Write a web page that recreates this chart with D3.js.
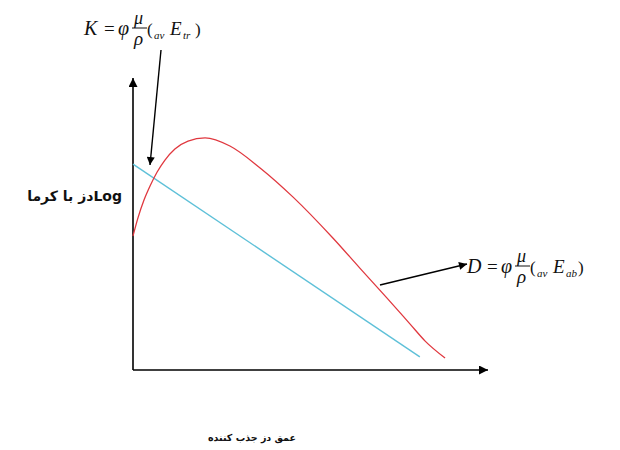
<!DOCTYPE html>
<html>
<head>
<meta charset="utf-8">
<script src="https://cdn.jsdelivr.net/npm/d3@7"></script>
<style>
  html, body { margin: 0; padding: 0; background: #fff; }
  svg { display: block; }
  .ar { font-family: "DejaVu Sans", sans-serif; font-weight: bold; fill: #111; }
  .fx { font-family: "Liberation Serif", "Times New Roman", serif; font-style: italic; fill: #111; }
</style>
</head>
<body>
<svg id="chart" width="620" height="450"></svg>
<script>
// Depth (relative units) and log-dose (relative units) for the two curves
const depthAbsorbed = [0, 1.4, 3.1, 4.8, 6.8, 9, 11.8, 15.5, 20.3, 27.3, 35.8, 45.1, 56.3, 63.9, 71.5, 78, 82.3, 87.9];
const doseAbsorbed  = [45.9, 52.1, 58.2, 63, 67.8, 71.9, 75.7, 78.4, 79.5, 76.7, 69.2, 59.2, 45.2, 34.9, 24.7, 15.8, 9.9, 4.1];
const depthKerma = [0, 80.8];
const doseKerma  = [70.5, 4.5];

const yLabel = "Logدز با کرما";
const xLabel = "عمق دز جذب کننده";

const svg = d3.select("#chart");

const x = d3.scaleLinear().domain([0, 100]).range([133, 488]);
const y = d3.scaleLinear().domain([0, 100]).range([370, 78]);

// arrowhead markers
const defs = svg.append("defs");
defs.append("marker")
  .attr("id", "head")
  .attr("viewBox", "0 0 10 10")
  .attr("refX", 10).attr("refY", 5)
  .attr("markerUnits", "userSpaceOnUse")
  .attr("markerWidth", 12).attr("markerHeight", 9)
  .attr("orient", "auto")
  .append("path").attr("d", "M0,0 L10,5 L0,10 Z").attr("fill", "#000");
defs.append("marker")
  .attr("id", "headSmall")
  .attr("viewBox", "0 0 10 10")
  .attr("refX", 10).attr("refY", 5)
  .attr("markerUnits", "userSpaceOnUse")
  .attr("markerWidth", 11).attr("markerHeight", 8)
  .attr("orient", "auto")
  .append("path").attr("d", "M0,0 L10,5 L0,10 Z").attr("fill", "#000");

// axes with arrow tips
svg.append("line")
  .attr("x1", x(0)).attr("y1", y(0))
  .attr("x2", x(0)).attr("y2", y(100))
  .attr("stroke", "#000").attr("stroke-width", 1.6)
  .attr("marker-end", "url(#head)");
svg.append("line")
  .attr("x1", x(0)).attr("y1", y(0))
  .attr("x2", x(100)).attr("y2", y(0))
  .attr("stroke", "#000").attr("stroke-width", 1.6)
  .attr("marker-end", "url(#head)");

// kerma line
const kerma = depthKerma.map((d, i) => [d, doseKerma[i]]);
svg.append("path")
  .attr("d", d3.line().x(d => x(d[0])).y(d => y(d[1]))(kerma))
  .attr("fill", "none").attr("stroke", "#5ec0d8").attr("stroke-width", 1.4);

// absorbed dose curve
const absorbed = depthAbsorbed.map((d, i) => [d, doseAbsorbed[i]]);
svg.append("path")
  .attr("d", d3.line().curve(d3.curveMonotoneX).x(d => x(d[0])).y(d => y(d[1]))(absorbed))
  .attr("fill", "none").attr("stroke", "#e0383f").attr("stroke-width", 1.3);

// pointer arrows to the formulas
svg.append("line")
  .attr("x1", 161).attr("y1", 50).attr("x2", 150).attr("y2", 165)
  .attr("stroke", "#000").attr("stroke-width", 1.4)
  .attr("marker-end", "url(#headSmall)");
svg.append("line")
  .attr("x1", 380).attr("y1", 285).attr("x2", 467).attr("y2", 264)
  .attr("stroke", "#000").attr("stroke-width", 1.4)
  .attr("marker-end", "url(#headSmall)");

// formula: lead symbol = φ μ/ρ ( av E sub )
function formula(x0, base, lead, sub) {
  const g = svg.append("g").attr("class", "fx");
  g.append("text").attr("x", x0).attr("y", base).attr("font-size", 20).text(lead);
  g.append("text").attr("x", x0 + 20).attr("y", base).attr("font-size", 19).style("font-style", "normal").text("=");
  g.append("text").attr("x", x0 + 34).attr("y", base).attr("font-size", 20).text("φ");
  g.append("text").attr("x", x0 + 50).attr("y", base - 11).attr("font-size", 18).text("μ");
  g.append("line").attr("x1", x0 + 48).attr("x2", x0 + 63)
    .attr("y1", base - 7).attr("y2", base - 7).attr("stroke", "#111").attr("stroke-width", 1);
  g.append("text").attr("x", x0 + 50).attr("y", base + 10).attr("font-size", 19).text("ρ");
  g.append("text").attr("x", x0 + 63).attr("y", base).attr("font-size", 17).style("font-style", "normal").text("(");
  g.append("text").attr("x", x0 + 70).attr("y", base + 4).attr("font-size", 11).text("av");
  g.append("text").attr("x", x0 + 86).attr("y", base).attr("font-size", 19).text("E");
  g.append("text").attr("x", x0 + 99).attr("y", base + 4).attr("font-size", 11).text(sub);
  g.append("text").attr("x", x0 + 111).attr("y", base).attr("font-size", 17).style("font-style", "normal").text(")");
}
formula(84, 35, "K", "tr");
formula(467, 273, "D", "ab");

// axis labels
svg.append("text")
  .attr("class", "ar")
  .attr("font-size", 14)
  .attr("x", 122).attr("y", 201)
  .attr("direction", "rtl")
  .attr("text-anchor", "start")
  .text(yLabel);
svg.append("text")
  .attr("class", "ar")
  .attr("font-size", 9.5)
  .attr("x", 252).attr("y", 441)
  .attr("direction", "rtl")
  .attr("text-anchor", "middle")
  .text(xLabel);
</script>
</body>
</html>
